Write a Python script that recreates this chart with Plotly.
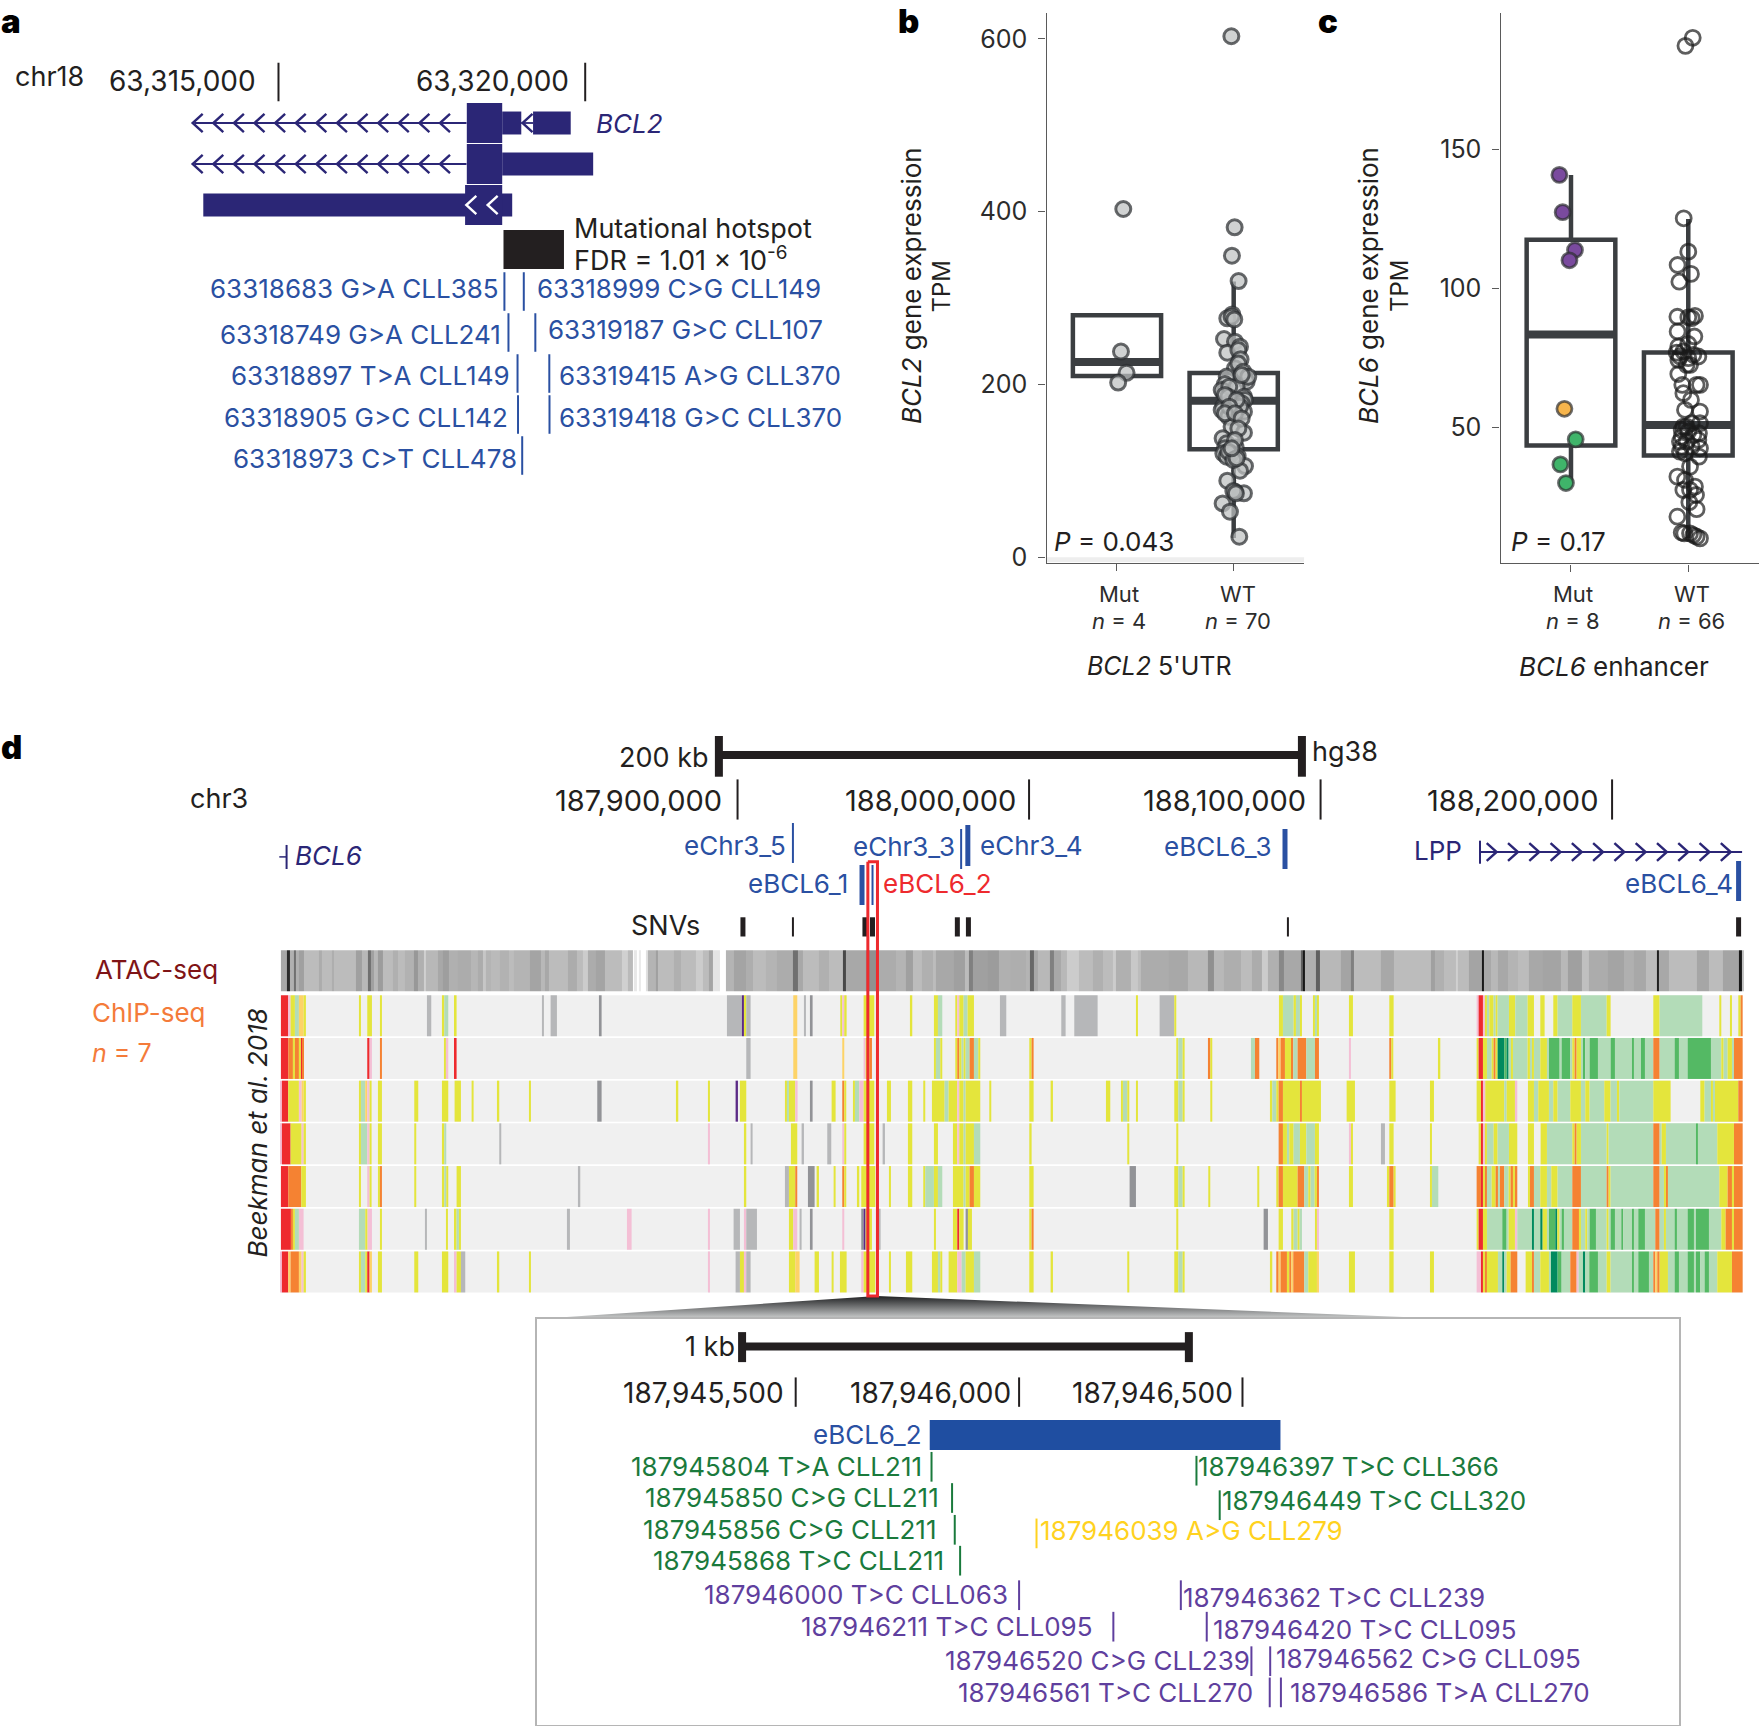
import plotly.graph_objects as go

W, H = 1759, 1726
FONT = "Inter"
INK = "#231f20"
NAVY = "#2b2676"
BLUE = "#2a50a2"
BOXC = "#3b3e41"

# ---------------- panel a data ----------------
a_ticks = [63315000, 63320000]
a_tick_labels = ["63,315,000", "63,320,000"]
a_chevrons = [63313601, 63313937, 63314273, 63314609, 63314945, 63315281, 63315617,
              63315953, 63316289, 63316625, 63316961, 63317297, 63317633]
a_intron = [(63313631, 63318065), (63318958, 63319150)]
# (start, end, lane, thick?)
a_exons = [(63318070, 63318647, 0, 1), (63318647, 63318958, 0, 0), (63319150, 63319764, 0, 0),
           (63318070, 63318647, 1, 1), (63318647, 63320130, 1, 0),
           (63313774, 63318810, 2, 0), (63318042, 63318647, 2, 1)]
a_hotspot = (63318668, 63319654)
a_mut_pos = [63318683, 63318749, 63318897, 63318905, 63318973,
             63318999, 63319187, 63319415, 63319418]
a_mut_lane = [4.11, 5.11, 6.11, 7.11, 8.11, 4.11, 5.11, 6.11, 7.11]
a_mut_text = ["63318683 G>A CLL385", "63318749 G>A CLL241", "63318897 T>A CLL149",
              "63318905 G>C CLL142", "63318973 C>T CLL478", "63318999 C>G CLL149",
              "63319187 G>C CLL107", "63319415 A>G CLL370", "63319418 G>C CLL370"]

# ---------------- panel b data ----------------
b_groups = ["Mut", "WT"]
b_counts = ["<i>n</i> = 4", "<i>n</i> = 70"]
b_mut_x = [1.054, 1.034, 1.082, 1.010]
b_mut_y = [403, 238, 213.4, 202]
b_wt_x = [1.98, 2.008, 1.985, 2.042, 1.988, 1.945, 1.982, 2.005, 1.917, 2.011, 1.945, 2.054, 2.04, 2.059,
          2.011, 2.068, 2.097, 1.94, 2.111, 1.925, 1.911, 1.897, 2.025, 1.962, 2.088, 2.097, 2.068, 1.911,
          2.04, 2.088, 1.897, 1.954, 2.054, 1.982, 2.088, 1.905, 1.94, 2.017, 1.925, 1.911, 2.034, 1.94,
          1.982, 2.097, 2.054, 1.945, 2.088, 2.011, 1.997, 2.019, 1.905, 1.968, 2.048, 2.04, 2.082, 2.125,
          2.068, 1.954, 1.925, 2.025, 1.962, 1.925, 2.011, 2.068, 2.04, 2.011, 1.954, 1.997, 2.025, 1.982]
b_wt_y = [603, 381.8, 349, 319.6, 281, 276.4, 278.3, 275.2, 252.5, 249.4, 236.7, 243.6, 239.7, 229,
          218.5, 212.7, 207, 209, 203, 200.4, 191.5, 193.4, 197.3, 197.3, 185.7, 181.9, 178, 174.9,
          168.3, 168.3, 170.3, 162.6, 174.1, 151, 144, 137.5, 131.7, 127, 125.9, 120.1, 117, 116.3,
          120.1, 105.4, 100, 88.5, 73.8, 75.7, 76.5, 73.8, 62.2, 52.6, 23.6, 224, 214.7, 208.9,
          210.8, 185.7, 187.7, 181.9, 174.1, 166.4, 166.4, 160.6, 149, 135.6, 122, 112.4, 114.3, 125.9]
# q1, median, q3, lower fence, upper fence
b_box = {1: (209.8, 226, 280, 209.8, 280), 2: (125, 181, 213, 22, 319)}

# ---------------- panel c data ----------------
c_groups = ["Mut", "WT"]
c_counts = ["<i>n</i> = 8", "<i>n</i> = 66"]
c_mut_x = [0.901, 0.929, 1.034, 0.987, 0.944, 1.04, 0.91, 0.957]
c_mut_y = [140.9, 127.5, 113.9, 110.2, 56.8, 45.8, 36.8, 30.1]
c_mut_col = ["#7a4a9e", "#7a4a9e", "#7a4a9e", "#7a4a9e", "#f7b54c", "#3fb46a", "#3fb46a", "#3fb46a"]
c_wt_x = [2.038, 1.976, 1.961, 2.0, 1.909, 2.023, 1.924, 1.907, 2.057, 2.0, 2.029, 1.909, 2.052, 2.0, 1.915,
          1.901, 1.958, 2.043, 2.086, 1.929, 2.0, 2.015, 1.986, 1.915, 1.949, 2.1, 2.071, 1.958, 2.023, 1.972,
          2.1, 1.958, 2.029, 2.1, 1.944, 2.0, 2.091, 1.944, 2.043, 2.086, 1.929, 1.986, 2.1, 1.944, 2.029,
          1.929, 1.972, 2.091, 2.015, 1.907, 1.972, 1.958, 2.057, 2.015, 2.066, 2.009, 2.071, 1.907, 1.944,
          1.966, 2.043, 2.071, 2.1, 2.015, 1.915, 1.986]
c_wt_y = [190.2, 187.3, 125.3, 113.3, 108.5, 105.3, 102.5, 89.9, 90.2, 89.7, 89.4, 84.6, 82.8, 80.1, 79.2,
          77, 77.4, 76.2, 75.6, 75.6, 75, 72.6, 72.6, 69.3, 65.4, 65.4, 65.4, 62.4, 60, 56.4,
          55.8, 50.4, 51.6, 51.6, 49.2, 48.6, 48, 46.8, 47.4, 45.6, 45, 45, 42.6, 43.2, 43.2,
          41.4, 40.8, 39.6, 36, 32.4, 31.2, 27.6, 28.8, 27.6, 25.8, 23.2, 20.7, 18, 12.3,
          12, 11.4, 10.8, 10.2, 12, 74.4, 50.4]
c_box = {1: (43.6, 83.5, 117.6, 30.1, 140.9), 2: (40, 51, 77, 10.3, 125)}

# ---------------- panel d data ----------------
d_ticks_kb = [187900, 188000, 188100, 188200]
d_tick_labels = ["187,900,000", "188,000,000", "188,100,000", "188,200,000"]
d_scale_kb = (187893.6, 188093.6)
d_enh_names = ["eChr3_5", "eChr3_3", "eChr3_4", "eBCL6_3", "eBCL6_4", "eBCL6_1", "eBCL6_2"]
d_enh_pos = [187919.0, 187976.7, 187979.0, 188087.8, 188243.4, 187942.7, 187946.3]
d_enh_top = [-4.514, -4.374, -4.467, -4.374, -3.624, -3.53, -3.53]
d_enh_bot = [-3.578, -3.437, -3.507, -3.437, -2.687, -2.594, -2.594]
d_enh_wid = [2, 2, 5, 5, 5, 5, 2]
d_snv_pos = [187901.85, 187919, 187943.7, 187946.3, 187975.4, 187979.2, 188088.8, 188243.4]
d_snv_wid = [5, 2, 5, 5, 5, 5, 2, 5]
lpp_span = (188154.7, 188244.6)
lpp_chev = [188160.4, 188167.7, 188175.0, 188182.3, 188189.6, 188196.9, 188204.2, 188211.5,
            188218.8, 188226.1, 188233.4, 188240.7]
bcl6_pos = 187745.3

TRACK_START_KB = 187743.36
UNIT_KB = 0.11435     # one chromatin-state unit
WINDOW = 1095         # units per window
TRACK_UNITS = 4386

STATE = dict(R="#ee2a2e", O="#f58232", Y="#e4e53c", G="#b3dcb8", D="#54b964", E="#018a5e",
             P="#f4bfd5", S="#b6b7b9", K="#929397", V="#5b2a86", A="#fdd367")

# chromatin-state runs for each of seven samples, split over four genomic windows
t1 = [[(0,22,'R'),(22,29,'P'),(29,42,'Y'),(42,54,'G'),(54,68,'A'),(68,75,'Y'),(234,240,'Y'),(259,273,'Y'),(297,303,'Y'),(438,451,'S'),(483,490,'Y'),(490,502,'G'),(521,527,'Y'),(783,789,'S'),(809,828,'S'),(954,962,'K')],
      [(243,288,'S'),(288,294,'V'),(294,301,'Y'),(301,314,'S'),(442,454,'A'),(474,480,'S'),(492,500,'K'),(583,589,'Y'),(589,595,'P'),(595,602,'Y'),(653,685,'Y'),(792,799,'Y'),(864,876,'Y'),(876,889,'G'),(928,934,'Y'),(934,940,'P'),(940,953,'Y'),(953,965,'G'),(965,984,'Y'),(1062,1081,'S')],
      [(151,164,'S'),(190,260,'S'),(375,381,'Y'),(446,490,'S'),(490,496,'Y'),(804,816,'Y'),(816,848,'G'),(848,855,'Y'),(855,867,'G'),(867,873,'Y'),(906,912,'Y'),(912,918,'G'),(918,924,'Y'),(1014,1026,'Y')],
      [(40,53,'Y'),(302,308,'P'),(308,321,'R'),(321,327,'P'),(327,333,'Y'),(333,340,'G'),(340,353,'Y'),(353,359,'G'),(359,365,'Y'),(365,399,'G'),(399,418,'Y'),(418,455,'G'),(455,474,'Y'),(493,506,'Y'),(532,545,'Y'),(545,589,'G'),(589,615,'Y'),(615,692,'G'),(692,704,'Y'),(832,851,'Y'),(851,979,'G'),(1030,1036,'Y'),(1062,1068,'Y'),(1087,1094,'Y'),(1094,1100,'O')]]
t2 = [[(0,22,'R'),(22,36,'O'),(36,42,'Y'),(42,54,'O'),(54,60,'Y'),(60,66,'R'),(66,68,'O'),(259,266,'R'),(266,273,'P'),(297,303,'O'),(489,495,'Y'),(495,502,'P'),(521,527,'R')],
      [(301,314,'S'),(442,454,'A'),(589,595,'A'),(653,659,'P'),(659,671,'Y'),(671,678,'O'),(864,870,'Y'),(870,883,'G'),(883,889,'Y'),(928,934,'Y'),(934,940,'O'),(940,947,'Y'),(947,953,'G'),(953,959,'Y'),(959,971,'G'),(971,984,'O'),(984,997,'G'),(997,1003,'Y')],
      [(55,62,'Y'),(62,68,'O'),(496,502,'Y'),(502,515,'G'),(515,521,'Y'),(591,598,'O'),(598,604,'Y'),(720,732,'G'),(732,745,'O'),(796,802,'O'),(802,809,'A'),(809,822,'O'),(822,840,'Y'),(840,847,'O'),(847,860,'G'),(860,886,'O'),(886,912,'G'),(912,924,'O'),(1014,1020,'P')],
      [(40,46,'O'),(46,52,'Y'),(186,193,'Y'),(302,308,'Y'),(308,321,'R'),(321,333,'Y'),(333,347,'G'),(347,353,'Y'),(353,359,'O'),(359,365,'Y'),(365,385,'E'),(385,392,'D'),(392,398,'E'),(398,405,'G'),(405,411,'Y'),(411,455,'G'),(455,462,'Y'),(462,468,'G'),(468,474,'Y'),(474,493,'G'),(493,513,'Y'),(513,519,'G'),(519,551,'D'),(551,557,'G'),(557,583,'D'),(583,589,'G'),(589,596,'Y'),(596,602,'O'),(602,615,'Y'),(615,621,'G'),(621,628,'D'),(628,641,'G'),(641,666,'D'),(666,704,'G'),(704,717,'D'),(717,768,'G'),(768,774,'D'),(774,795,'G'),(795,807,'D'),(807,832,'G'),(832,851,'O'),(851,896,'G'),(896,909,'D'),(909,935,'G'),(935,1005,'D'),(1005,1036,'G'),(1036,1043,'Y'),(1043,1055,'G'),(1055,1068,'Y'),(1068,1074,'G'),(1074,1100,'O')]]
t3 = [[(0,3,'P'),(3,22,'R'),(22,54,'Y'),(54,62,'P'),(62,68,'A'),(68,75,'Y'),(234,240,'Y'),(240,253,'G'),(253,259,'A'),(259,266,'P'),(266,272,'Y'),(291,303,'Y'),(400,412,'Y'),(483,502,'Y'),(521,540,'Y'),(572,578,'Y'),(648,655,'Y'),(744,750,'Y'),(949,962,'K')],
      [(90,97,'Y'),(186,192,'Y'),(269,276,'V'),(282,301,'Y'),(417,423,'Y'),(423,429,'G'),(429,448,'Y'),(448,455,'P'),(492,500,'K'),(557,569,'Y'),(589,595,'O'),(595,601,'Y'),(621,627,'Y'),(627,640,'G'),(640,653,'P'),(653,685,'Y'),(723,735,'Y'),(786,799,'Y'),(832,838,'Y'),(858,896,'Y'),(896,908,'G'),(908,934,'Y'),(934,940,'P'),(940,953,'Y'),(953,959,'G'),(959,1003,'Y'),(1030,1036,'Y')],
      [(55,68,'Y'),(119,126,'Y'),(285,298,'Y'),(330,336,'Y'),(336,349,'G'),(349,355,'Y'),(375,381,'Y'),(490,502,'Y'),(502,515,'G'),(515,521,'Y'),(598,604,'Y'),(777,784,'Y'),(784,796,'G'),(796,803,'Y'),(803,816,'O'),(816,867,'Y'),(867,873,'O'),(873,930,'Y'),(1007,1032,'Y')],
      [(40,59,'Y'),(162,174,'Y'),(302,315,'Y'),(315,321,'R'),(321,328,'P'),(328,385,'Y'),(385,392,'G'),(392,417,'Y'),(417,424,'P'),(456,474,'Y'),(474,487,'G'),(487,519,'Y'),(519,532,'G'),(532,545,'Y'),(545,583,'G'),(583,615,'Y'),(615,628,'G'),(628,641,'Y'),(641,685,'G'),(685,704,'Y'),(704,723,'G'),(723,730,'Y'),(730,832,'G'),(832,884,'Y'),(973,986,'Y'),(986,1005,'G'),(1005,1011,'Y'),(1011,1017,'G'),(1017,1087,'Y'),(1087,1100,'O')]]
t4 = [[(0,3,'P'),(3,29,'R'),(29,62,'Y'),(62,68,'P'),(68,75,'Y'),(234,240,'Y'),(240,259,'G'),(259,266,'P'),(266,272,'Y'),(291,303,'Y'),(400,406,'Y'),(483,490,'Y'),(490,496,'G'),(655,661,'S')],
      [(186,192,'P'),(294,301,'Y'),(314,320,'S'),(435,454,'Y'),(467,474,'S'),(544,556,'S'),(589,595,'P'),(595,601,'Y'),(653,685,'Y'),(710,717,'S'),(786,799,'Y'),(864,876,'Y'),(921,934,'Y'),(934,940,'P'),(940,953,'Y'),(953,959,'G'),(959,984,'Y'),(984,1003,'G')],
      [(55,62,'Y'),(349,355,'Y'),(496,502,'Y'),(803,816,'O'),(816,828,'Y'),(828,835,'G'),(835,848,'Y'),(848,867,'G'),(867,886,'Y'),(886,912,'G'),(912,924,'Y'),(1014,1020,'P'),(1020,1026,'Y')],
      [(15,27,'S'),(40,53,'Y'),(162,168,'Y'),(308,315,'Y'),(315,321,'R'),(321,327,'P'),(327,333,'Y'),(333,353,'G'),(353,365,'Y'),(365,399,'G'),(399,424,'Y'),(456,474,'Y'),(494,513,'Y'),(513,589,'G'),(589,596,'Y'),(596,602,'O'),(602,615,'Y'),(615,692,'G'),(692,698,'Y'),(698,832,'G'),(832,851,'O'),(851,857,'G'),(857,870,'Y'),(870,960,'G'),(960,966,'D'),(966,1024,'G'),(1024,1074,'Y'),(1074,1100,'O')]]
t5 = [[(0,22,'R'),(22,61,'O'),(61,75,'Y'),(234,240,'Y'),(259,266,'P'),(266,272,'Y'),(291,297,'Y'),(297,303,'O'),(400,406,'Y'),(483,490,'Y'),(490,496,'G'),(496,502,'Y'),(527,540,'Y'),(891,898,'S')],
      [(294,301,'Y'),(417,429,'S'),(429,448,'Y'),(448,454,'O'),(486,506,'K'),(512,519,'Y'),(563,569,'Y'),(589,595,'O'),(595,601,'Y'),(633,640,'Y'),(646,688,'Y'),(729,735,'Y'),(786,799,'Y'),(832,838,'Y'),(838,864,'G'),(864,876,'Y'),(876,889,'G'),(921,953,'Y'),(953,959,'G'),(959,971,'Y'),(971,984,'O'),(984,1003,'Y')],
      [(55,68,'Y'),(356,375,'K'),(490,502,'Y'),(502,515,'G'),(515,521,'Y'),(592,598,'Y'),(739,745,'Y'),(796,803,'Y'),(803,816,'O'),(816,860,'Y'),(860,880,'O'),(880,892,'G'),(892,899,'Y'),(899,911,'G'),(911,918,'Y'),(918,924,'O'),(1014,1026,'Y')],
      [(33,40,'Y'),(40,53,'O'),(53,59,'Y'),(162,168,'Y'),(168,187,'G'),(302,315,'O'),(315,321,'R'),(321,327,'Y'),(327,333,'O'),(333,347,'G'),(347,359,'Y'),(359,366,'O'),(366,372,'G'),(372,385,'O'),(385,398,'G'),(398,404,'Y'),(404,411,'O'),(411,417,'Y'),(417,424,'O'),(456,462,'Y'),(462,474,'O'),(474,493,'G'),(493,513,'Y'),(513,526,'G'),(526,545,'Y'),(545,589,'G'),(589,615,'O'),(615,692,'G'),(692,698,'O'),(698,704,'Y'),(704,832,'G'),(832,851,'O'),(851,864,'G'),(864,870,'Y'),(870,876,'O'),(876,1030,'G'),(1030,1055,'Y'),(1055,1068,'O'),(1068,1074,'Y'),(1074,1100,'O')]]
t6 = [[(0,30,'R'),(30,36,'O'),(36,42,'Y'),(42,54,'G'),(54,68,'P'),(234,253,'G'),(253,260,'Y'),(260,273,'P'),(297,303,'Y'),(432,438,'S'),(495,501,'Y'),(521,527,'Y'),(527,534,'G'),(534,540,'Y'),(858,867,'S'),(1038,1052,'P')],
      [(186,192,'P'),(263,282,'S'),(294,301,'P'),(301,333,'S'),(429,442,'Y'),(442,454,'P'),(461,467,'S'),(492,500,'K'),(589,595,'P'),(646,653,'K'),(653,659,'V'),(659,678,'Y'),(691,704,'S'),(864,870,'Y'),(921,934,'Y'),(934,940,'R'),(940,953,'Y'),(959,966,'K'),(966,978,'Y')],
      [(55,62,'Y'),(62,68,'O'),(496,502,'Y'),(758,771,'K'),(803,816,'Y'),(841,848,'Y'),(848,860,'G'),(860,866,'Y'),(866,873,'G'),(912,918,'Y'),(918,924,'P')],
      [(40,53,'Y'),(302,308,'Y'),(308,321,'R'),(321,333,'Y'),(333,379,'G'),(379,392,'D'),(392,398,'G'),(398,417,'Y'),(417,424,'P'),(424,468,'G'),(468,474,'E'),(474,493,'G'),(493,500,'E'),(500,513,'Y'),(513,519,'G'),(519,538,'D'),(538,544,'E'),(544,551,'Y'),(551,557,'G'),(557,564,'D'),(564,589,'G'),(589,609,'O'),(609,615,'Y'),(615,628,'G'),(628,634,'Y'),(634,641,'G'),(641,660,'D'),(660,692,'G'),(692,698,'Y'),(698,704,'G'),(704,717,'D'),(717,736,'G'),(736,742,'D'),(742,768,'G'),(768,774,'D'),(774,787,'G'),(787,807,'D'),(807,838,'G'),(838,851,'O'),(851,864,'G'),(864,870,'Y'),(870,896,'G'),(896,903,'D'),(903,935,'G'),(935,954,'D'),(954,960,'G'),(960,999,'D'),(999,1036,'G'),(1036,1049,'Y'),(1049,1068,'O'),(1068,1074,'Y'),(1074,1100,'O')]]
t7 = [[(0,3,'P'),(3,22,'R'),(22,29,'A'),(29,54,'O'),(54,62,'A'),(62,68,'P'),(68,75,'Y'),(234,240,'Y'),(240,253,'G'),(253,259,'Y'),(259,266,'R'),(266,273,'A'),(291,303,'Y'),(400,412,'Y'),(483,502,'Y'),(521,527,'P'),(527,540,'Y'),(540,553,'S'),(648,655,'Y'),(744,750,'Y')],
      [(186,192,'P'),(269,282,'S'),(282,294,'Y'),(294,301,'P'),(301,314,'S'),(429,448,'Y'),(448,461,'A'),(506,519,'Y'),(557,563,'Y'),(582,602,'Y'),(646,653,'P'),(653,688,'Y'),(729,735,'Y'),(780,799,'Y'),(858,876,'Y'),(876,883,'G'),(883,889,'Y'),(908,934,'Y'),(934,947,'P'),(947,959,'G'),(959,984,'Y'),(984,1003,'G')],
      [(55,68,'Y'),(119,126,'Y'),(349,355,'Y'),(490,502,'Y'),(502,515,'G'),(515,521,'Y'),(777,784,'Y'),(796,803,'O'),(803,809,'A'),(809,828,'O'),(828,835,'Y'),(835,841,'O'),(841,847,'A'),(847,880,'O'),(880,892,'G'),(892,918,'Y'),(918,924,'A'),(1014,1032,'Y')],
      [(40,53,'Y'),(162,174,'Y'),(302,315,'P'),(315,321,'R'),(321,327,'Y'),(327,333,'O'),(333,366,'Y'),(366,379,'G'),(379,385,'E'),(385,392,'G'),(392,404,'Y'),(404,424,'O'),(449,468,'Y'),(468,474,'O'),(474,493,'G'),(493,519,'Y'),(519,525,'G'),(525,545,'E'),(545,557,'D'),(557,583,'G'),(583,602,'O'),(602,608,'P'),(608,621,'G'),(621,628,'E'),(628,640,'G'),(640,666,'D'),(666,692,'G'),(692,704,'Y'),(704,768,'G'),(768,774,'D'),(774,787,'G'),(787,819,'D'),(819,832,'G'),(832,838,'O'),(838,844,'A'),(844,851,'O'),(851,876,'Y'),(876,896,'G'),(896,909,'D'),(909,935,'G'),(935,954,'D'),(954,960,'G'),(960,973,'D'),(973,986,'G'),(986,999,'D'),(999,1024,'G'),(1024,1068,'Y'),(1068,1100,'O')]]
samples = [t1, t2, t3, t4, t5, t6, t7]

# ATAC signal shown as grey level (0 = black, 255 = none) per run
atac = [[(0,18,0xa8),(18,27,0x2a),(27,38,0xb0),(38,45,0x70),(45,55,0xb0),(55,70,0xa0),(70,115,0xbc),(115,122,0xac),(122,152,0xbc),(152,160,0xae),(160,225,0xbc),(225,243,0xa0),(243,262,0xb8),(262,270,0x70),(270,280,0xa0),(280,292,0xb8),(292,306,0x9c),(306,335,0xbc),(335,350,0xb0),(350,372,0xbc),(372,400,0xb2),(400,412,0x98),(412,430,0xb0),(430,436,0xd0),(436,470,0xb8),(470,485,0xa8),(485,505,0x9e),(505,530,0xb0),(530,570,0xac),(570,590,0xb6),(590,605,0xac),(605,615,0xc6),(615,630,0xb4),(630,658,0xba),(658,685,0xb2),(685,700,0xbc),(700,748,0xb4),(748,780,0xa4),(780,792,0xb8),(792,805,0xa8),(805,862,0xbc),(862,888,0xac),(888,905,0xbc),(905,920,0xcc),(920,945,0xac),(945,972,0xa4),(972,1022,0xbc),(1022,1042,0xd0),(1042,1055,0xba),(1055,1060,0xff),(1060,1068,0xe8),(1068,1074,0xff),(1074,1080,0xea),(1080,1095,0xff)],
        [(0,5,0xe0),(5,30,0xb4),(30,35,0xa0),(35,85,0xbc),(85,105,0xb0),(105,150,0xbc),(150,170,0xcc),(170,190,0xbc),(190,200,0xa4),(200,222,0xe4),(222,240,0xff),(240,265,0xb4),(265,300,0xa4),(300,322,0xae),(322,360,0xbc),(360,392,0xb4),(392,442,0xac),(442,456,0x70),(456,470,0xa8),(470,520,0xbc),(520,550,0xb0),(550,590,0xbc),(590,600,0x48),(600,660,0xa8),(660,695,0x90),(695,750,0xac),(750,780,0xb4),(780,800,0xa0),(800,828,0xbc),(828,860,0xb0),(860,870,0xbc),(870,925,0xa8),(925,958,0xa0),(958,968,0xbc),(968,980,0x80),(980,1025,0xa0),(1025,1060,0x9c),(1060,1095,0xb0)],
        [(0,45,0xae),(45,58,0xb4),(58,68,0x68),(68,80,0xa8),(80,118,0xb8),(118,130,0x80),(130,150,0xa8),(150,168,0xb8),(168,205,0xcc),(205,245,0xbc),(245,275,0xb0),(275,305,0xbc),(305,315,0xcc),(315,360,0xb0),(360,380,0xc8),(380,390,0xbc),(390,475,0xac),(475,530,0xa8),(530,590,0xb8),(590,608,0x90),(608,640,0xb8),(640,690,0xae),(690,722,0xbc),(722,752,0xac),(752,770,0xcc),(770,805,0xb0),(805,820,0x88),(820,870,0xa8),(870,875,0x60),(875,883,0x18),(883,915,0xb0),(915,928,0x60),(928,990,0xb8),(990,1020,0xa4),(1020,1030,0x80),(1030,1095,0xbc)],
        [(0,15,0xbc),(15,55,0xa8),(55,165,0xbc),(165,178,0xa0),(178,205,0xb0),(205,240,0xbc),(240,245,0xd0),(245,280,0xbc),(280,318,0xa4),(318,325,0x18),(325,345,0xa8),(345,365,0xb8),(365,395,0xa8),(395,425,0xb4),(425,458,0xbc),(458,500,0xa8),(500,555,0xa4),(555,575,0xb8),(575,618,0xa0),(618,640,0xc0),(640,695,0xac),(695,745,0xa4),(745,775,0xb0),(775,810,0xa8),(810,842,0xbc),(842,850,0x20),(850,880,0xa8),(880,962,0xbc),(962,1000,0xa6),(1000,1040,0xbc),(1040,1090,0xa4),(1090,1098,0x18),(1098,1105,0xc0)]]

# ---------------- inset data ----------------
i_ticks = [187945500, 187946000, 187946500]
i_tick_labels = ["187,945,500", "187,946,000", "187,946,500"]
i_scale = (187945380, 187946380)
i_enh = (187945800, 187946585)
i_pos = [187945804, 187946397, 187945850, 187946449, 187945856, 187946039, 187945868,
         187946000, 187946362, 187946211, 187946420, 187946520, 187946562, 187946561, 187946586]
i_text = ["187945804 T>A CLL211", "187946397 T>C CLL366", "187945850 C>G CLL211", "187946449 T>C CLL320",
          "187945856 C>G CLL211", "187946039 A>G CLL279", "187945868 T>C CLL211", "187946000 T>C CLL063",
          "187946362 T>C CLL239", "187946211 T>C CLL095", "187946420 T>C CLL095", "187946520 C>G CLL239",
          "187946562 C>G CLL095", "187946561 T>C CLL270", "187946586 T>A CLL270"]
i_group = ["g", "g", "g", "g", "g", "y", "g", "p", "p", "p", "p", "p", "p", "p", "p"]
i_lane = [5.56, 5.69, 6.6, 6.84, 7.66, 7.78, 8.69, 9.84, 9.84, 10.89, 10.89, 12.04, 12.04, 13.08, 13.08]
I_COL = dict(g="#1a7a3c", y="#ffd21f", p="#5f3f9e")

# ---------------- helpers ----------------
def dx(a, b): return [a / W, b / W]
def dy(a, b): return [1 - b / H, 1 - a / H]

fig = go.Figure()
ann = []
NUDGE = dict(left=-2, right=1.5, center=0)

def lab(x, y, text, anchor="left", color=INK, size=26, angle=0, weight=400):
    ann.append(dict(x=(x + NUDGE[anchor]) / W, y=1 - y / H, xref="paper", yref="paper", text=text, showarrow=False,
                    xanchor=anchor, yanchor="middle", textangle=angle, borderpad=0,
                    font=dict(family=FONT, size=size, color=color, weight=weight)))

def vlines(xs, tops, bots, width, color, ax, ay):
    X, Y = [], []
    for x, t, b in zip(xs, tops, bots):
        X += [x, x, None]; Y += [t, b, None]
    fig.add_trace(go.Scatter(x=X, y=Y, mode="lines", xaxis=ax, yaxis=ay, hoverinfo="skip", showlegend=False,
                             line=dict(color=color, width=width)))

def hline(x0, x1, y, width, color, ax, ay):
    fig.add_trace(go.Scatter(x=[x0, x1], y=[y, y], mode="lines", xaxis=ax, yaxis=ay, hoverinfo="skip",
                             showlegend=False, line=dict(color=color, width=width)))

def chevrons(tips, y, back, half, color, ax, ay, lw=2.4):
    X, Y = [], []
    for t in tips:
        X += [t + back, t, t + back, None]; Y += [y - half, y, y + half, None]
    fig.add_trace(go.Scatter(x=X, y=Y, mode="lines", xaxis=ax, yaxis=ay, hoverinfo="skip", showlegend=False,
                             line=dict(color=color, width=lw)))

def hbars(starts, ends, lanes, widths, colors, ax, ay):
    fig.add_trace(go.Bar(base=starts, x=[e - s for s, e in zip(starts, ends)], y=lanes, width=widths,
                         orientation="h", xaxis=ax, yaxis=ay, hoverinfo="skip", showlegend=False,
                         marker=dict(color=colors, line=dict(width=0))))

# ---------------- panel a ----------------
for lane in (0, 1):
    for s, e in a_intron[: (2 if lane == 0 else 1)]:
        hline(s, e, lane, 1.8, NAVY, "x", "y")
    chevrons(a_chevrons, lane, 163, 0.22, NAVY, "x", "y")
chevrons([63318978], 0, 163, 0.22, NAVY, "x", "y")
hbars([e[0] for e in a_exons], [e[1] for e in a_exons], [e[2] for e in a_exons],
      [0.97 if e[3] else 0.56 for e in a_exons], NAVY, "x", "y")
chevrons([63318062, 63318410], 2, 163, 0.22, "white", "x", "y")
hbars([a_hotspot[0]], [a_hotspot[1]], [3.085], [0.95], INK, "x", "y")
vlines(a_ticks, [-1.47, -1.47], [-0.53, -0.53], 2, INK, "x", "y")
vlines(a_mut_pos, [l - 0.47 for l in a_mut_lane], [l + 0.47 for l in a_mut_lane], 2, BLUE, "x", "y")

lab(15.7, 77, "chr18", size=27)
lab(255.6, 81, a_tick_labels[0], "right", size=28)
lab(568.5, 81, a_tick_labels[1], "right", size=28)
lab(596.6, 124, "<i>BCL2</i>", color=NAVY)
lab(574.7, 228, "Mutational hotspot", size=27)
lab(574.7, 259, "FDR = 1.01 × 10<sup>-6</sup>", size=27)
a_text_xy = [(498, 288, "right"), (500, 334, "right"), (509, 376, "right"), (507, 417, "right"), (516, 458, "right"),
             (538, 288, "left"), (549, 329, "left"), (560, 376, "left"), (559.5, 417, "left")]
for (x, y, an), t in zip(a_text_xy, a_mut_text):
    lab(x, y, t, an, BLUE)

# ---------------- panels b, c ----------------
def box_panel(ax, ay, boxes):
    for pos, (q1, med, q3, lo, hi) in boxes.items():
        fig.add_trace(go.Box(x=[pos], q1=[q1], median=[med], q3=[q3], lowerfence=[lo], upperfence=[hi],
                             width=0.756, whiskerwidth=0, boxpoints=False, xaxis=ax, yaxis=ay,
                             fillcolor="rgba(0,0,0,0)", line=dict(color=BOXC, width=4.5),
                             hoverinfo="skip", showlegend=False))
        hline(pos - 0.378, pos + 0.378, med, 8, BOXC, ax, ay)

GREY_FILL = "rgba(190,192,192,0.72)"
box_panel("x2", "y2", b_box)
hline(0.396, 2.605, -3, 5, "#eeeeee", "x2", "y2")
fig.add_trace(go.Scatter(x=b_mut_x + b_wt_x, y=b_mut_y + b_wt_y, mode="markers", xaxis="x2", yaxis="y2",
                         hoverinfo="skip", showlegend=False,
                         marker=dict(size=15, color=GREY_FILL, line=dict(color="rgba(45,47,50,0.72)", width=3))))
box_panel("x3", "y3", c_box)
fig.add_trace(go.Scatter(x=c_wt_x, y=c_wt_y, mode="markers", xaxis="x3", yaxis="y3", hoverinfo="skip", showlegend=False,
                         marker=dict(size=15, color="rgba(0,0,0,0)", line=dict(color="rgba(25,25,25,0.7)", width=2.8))))
fig.add_trace(go.Scatter(x=c_mut_x, y=c_mut_y, mode="markers", xaxis="x3", yaxis="y3", hoverinfo="skip", showlegend=False,
                         marker=dict(size=15, color=c_mut_col, line=dict(color="rgba(45,47,50,0.7)", width=2.8))))

lab(911, 286, "<i>BCL2</i> gene expression", "center", INK, 26, -90)
lab(940.5, 286, "TPM", "center", INK, 24, -90)
lab(1055, 541.5, "<i>P</i> = 0.043", size=26)
lab(1159, 666, "<i>BCL2</i> 5'UTR", "center", size=25)
lab(1368, 286, "<i>BCL6</i> gene expression", "center", INK, 26, -90)
lab(1399, 286, "TPM", "center", INK, 24, -90)
lab(1511.7, 541.5, "<i>P</i> = 0.17", size=26)
lab(1614, 666, "<i>BCL6</i> enhancer", "center", size=26)
for x, g, n in zip([1118.5, 1237.6], b_groups, b_counts):
    lab(x, 594, g, "center", "#2c2c2c", 22); lab(x, 621.4, n, "center", "#2c2c2c", 22)
for x, g, n in zip([1572.8, 1691.7], c_groups, c_counts):
    lab(x, 594, g, "center", "#2c2c2c", 22); lab(x, 621.4, n, "center", "#2c2c2c", 22)

# ---------------- panel d ----------------
def unit_kb(window, u):
    return TRACK_START_KB + (window * WINDOW + u) * UNIT_KB

for r, sample in enumerate(samples):
    S, E, C = [TRACK_START_KB], [TRACK_START_KB + TRACK_UNITS * UNIT_KB], ["#f0f0f0"]
    for w, runs in enumerate(sample):
        for a, b, st in runs:
            S.append(unit_kb(w, a)); E.append(unit_kb(w, b)); C.append(STATE[st])
    hbars(S, E, [r] * len(S), 0.96, C, "x4", "y4")

edges, z = [], []
for w, runs in enumerate(atac):
    for a, b, g in runs:
        if not edges or abs(edges[-1] - unit_kb(w, a)) > 1e-6:
            edges.append(unit_kb(w, a))
        edges.append(unit_kb(w, b))
        z.append(g)
fig.add_trace(go.Heatmap(x=edges, y=[-1.534, -0.574], z=[z], zmin=0, zmax=255, showscale=False, xaxis="x4", yaxis="y4",
                         colorscale=[[0, "#000000"], [1, "#ffffff"]], hoverinfo="skip"))

vlines(d_ticks_kb, [-5.535] * 4, [-4.594] * 4, 2, INK, "x4", "y4")
hline(d_scale_kb[0], d_scale_kb[1], -6.107, 8, INK, "x4", "y4")
vlines(list(d_scale_kb), [-6.552] * 2, [-5.598] * 2, 8, INK, "x4", "y4")
for p, t, b, wd in zip(d_enh_pos, d_enh_top, d_enh_bot, d_enh_wid):
    vlines([p], [t], [b], wd, BLUE, "x4", "y4")
for p, wd in zip(d_snv_pos, d_snv_wid):
    vlines([p], [-2.306], [-1.856], wd, INK, "x4", "y4")
vlines([bcl6_pos], [-4.0], [-3.437], 2, NAVY, "x4", "y4")
hline(bcl6_pos - 2.5, bcl6_pos, -3.72, 1.5, NAVY, "x4", "y4")
vlines([lpp_span[0]], [-4.1], [-3.56], 2, NAVY, "x4", "y4")
hline(lpp_span[0], lpp_span[1], -3.835, 2, NAVY, "x4", "y4")
chevrons(lpp_chev, -3.835, -3.4, 0.21, NAVY, "x4", "y4")

fig.add_trace(go.Scatter(x=[187831.2, 187944.7, 187947.8, 188145.7, 187831.2], y=[7.102, 6.563, 6.563, 7.102, 7.102],
                         mode="lines", fill="toself", xaxis="x4", yaxis="y4", hoverinfo="skip", showlegend=False,
                         line=dict(width=0),
                         fillgradient=dict(type="vertical", colorscale=[[0, "#d0d2d2"], [1, "#1f2022"]])))
fig.add_trace(go.Scatter(x=[187944.7, 187948, 187948, 187944.7, 187944.7], y=[-3.605, -3.605, 6.563, 6.563, -3.605],
                         mode="lines", xaxis="x4", yaxis="y4", hoverinfo="skip", showlegend=False,
                         line=dict(color="#ee2a2e", width=3)))

lab(707, 757.5, "200 kb", "right", size=27)
lab(1312.7, 751, "hg38", size=27)
lab(191, 798.5, "chr3", size=27)
for x, t in zip([721, 1015.6, 1305, 1597.5], d_tick_labels):
    lab(x, 800, t, "right", size=29)
lab(785, 845, "eChr3_5", "right", BLUE)
lab(954, 846, "eChr3_3", "right", BLUE)
lab(981, 845, "eChr3_4", "left", BLUE)
lab(1271, 846, "eBCL6_3", "right", BLUE)
lab(847, 883, "eBCL6_1", "right", BLUE)
lab(884.5, 883, "eBCL6_2", "left", "#ee2a2e")
lab(1732, 883, "eBCL6_4", "right", BLUE)
lab(296, 855, "<i>BCL6</i>", "left", NAVY)
lab(1461, 851, "LPP", "right", NAVY)
lab(699.4, 925, "SNVs", "right", size=27)
lab(95.5, 969, "ATAC-seq", "left", "#7f1416", 26)
lab(93, 1012, "ChIP-seq", "left", "#f47b3a", 26)
lab(93, 1053, "<i>n</i> = 7", "left", "#f47b3a", 25)
lab(257, 1133.5, "<i>Beekman et al. 2018</i>", "center", INK, 26, -90)

# ---------------- inset ----------------
hbars([i_enh[0]], [i_enh[1]], [4.5], [1.0], "#1f4ea1", "x5", "y5")
hline(i_scale[0], i_scale[1], 1.55, 8, INK, "x5", "y5")
vlines(list(i_scale), [1.07, 1.07], [2.07, 2.07], 8, INK, "x5", "y5")
vlines(i_ticks, [2.58] * 3, [3.56] * 3, 2, INK, "x5", "y5")
for p, l, g in zip(i_pos, i_lane, i_group):
    vlines([p], [l - 0.495], [l + 0.495], 2, I_COL[g], "x5", "y5")
lab(734, 1346, "1 kb", "right", size=27)
for x, t in zip([783, 1010.6, 1232], i_tick_labels):
    lab(x, 1393, t, "right", size=28)
lab(921, 1434, "eBCL6_2", "right", BLUE)
i_text_xy = [(921, 1466.7, "right"), (1199, 1466.7, "left"), (938, 1497.3, "right"), (1223, 1500.3, "left"),
             (935.7, 1529.3, "right"), (1041.4, 1530.7, "left"), (943, 1560, "right"), (1007, 1594.7, "right"),
             (1184.4, 1597.3, "left"), (1092, 1626, "right"), (1213.8, 1629.3, "left"), (1249, 1660.7, "right"),
             (1276.9, 1658.7, "left"), (1252.7, 1692, "right"), (1290.8, 1692, "left")]
for (x, y, an), t, g in zip(i_text_xy, i_text, i_group):
    lab(x, y, t, an, I_COL[g])

# panel letters
for x, y, t in [(2, 21.5, "a"), (899, 21.5, "b"), (1319, 21.5, "c"), (2, 747, "d")]:
    lab(x, y, t, "left", "#000000", 33, 0, 900)

hidden = dict(visible=False, fixedrange=True, automargin=False)
def data_axis(**kw):
    base = dict(showgrid=False, zeroline=False, showline=True, linecolor="#5a5a5a", linewidth=1.2, ticks="outside",
                automargin=False, ticklen=7, tickcolor="#5a5a5a", tickwidth=1.2,
                tickfont=dict(family=FONT, size=25, color="#2c2c2c"))
    base.update(kw)
    return base

fig.update_layout(
    width=W, height=H, margin=dict(l=0, r=0, t=0, b=0, autoexpand=False), paper_bgcolor="white", plot_bgcolor="rgba(0,0,0,0)",
    showlegend=False, barmode="overlay", boxmode="overlay", annotations=ann,
    xaxis=dict(domain=dx(0, 900), range=[63310460, 63325132], anchor="y", **hidden),
    yaxis=dict(domain=dy(0, 500), range=[9.195, -3], anchor="x", **hidden),
    xaxis2=data_axis(domain=dx(1046.5, 1304.3), range=[0.396, 2.605], anchor="y2", tickvals=[1, 2], showticklabels=False),
    yaxis2=data_axis(domain=dy(12.5, 562.5), range=[-6.25, 630.5], anchor="x2", tickvals=[0, 200, 400, 600], ticklabelstandoff=6),
    xaxis3=data_axis(domain=dx(1500.5, 1759), range=[0.399, 2.603], anchor="y3", tickvals=[1, 2], showticklabels=False),
    yaxis3=data_axis(domain=dy(12.5, 563.4), range=[1.2, 199.3], anchor="x3", tickvals=[50, 100, 150], ticklabelstandoff=6),
    xaxis4=dict(domain=dx(200, 1759), range=[187715.6, 188250.4], anchor="y4", **hidden),
    yaxis4=dict(domain=dy(725, 1320), range=[7.125, -6.809], anchor="x4", **hidden),
    xaxis5=dict(domain=dx(537, 1679), range=[187944921, 187947477], anchor="y5", showgrid=False, zeroline=False, automargin=False,
                showticklabels=False, ticks="", showline=True, mirror=True, linecolor="#b5b5b5", linewidth=1.5, fixedrange=True),
    yaxis5=dict(domain=dy(1319, 1725), range=[14.167, 0.633], anchor="x5", showgrid=False, zeroline=False, automargin=False,
                showticklabels=False, ticks="", showline=True, mirror=True, linecolor="#b5b5b5", linewidth=1.5, fixedrange=True),
)

fig.write_html("out.html", config=dict(displayModeBar=False),
               post_script="document.body.style.margin='0';document.documentElement.style.overflow='hidden';"
                           "document.body.style.overflow='hidden';document.body.style.height='1726px';")
